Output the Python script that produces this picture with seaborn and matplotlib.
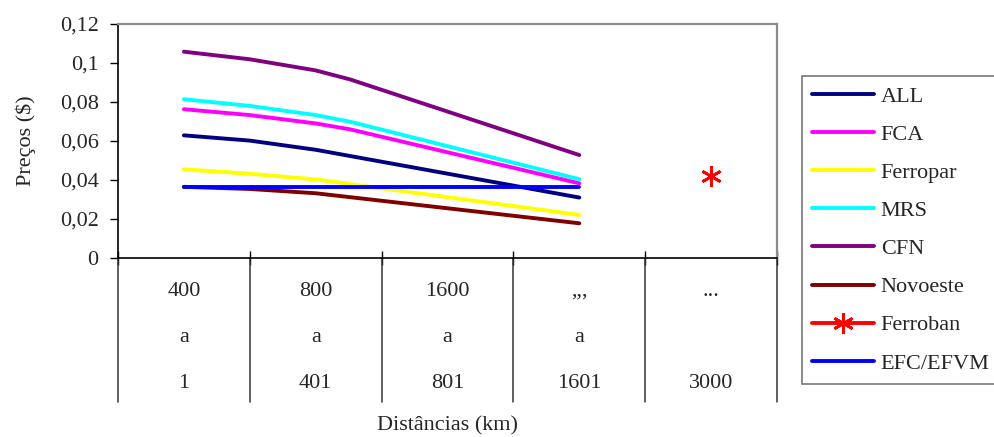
import matplotlib
matplotlib.use("Agg")
import matplotlib.pyplot as plt
import matplotlib.transforms as mtransforms
import seaborn as sns
import pandas as pd

# ---- data ----
categories_top = ["400", "800", "1600", ",,,", "..."]
categories_mid = ["a", "a", "a", "a", ""]
categories_bot = ["1", "401", "801", "1601", "3000"]

all_x = [0, 0.5, 1.0, 3.0]
all_y = [0.0629, 0.0602, 0.0555, 0.0310]

fca_x = [0, 0.5, 1.0, 1.26, 3.0]
fca_y = [0.0763, 0.0733, 0.0690, 0.0660, 0.0383]

ferropar_x = [0, 0.5, 1.0, 3.0]
ferropar_y = [0.0455, 0.0432, 0.0403, 0.0221]

mrs_x = [0, 0.5, 1.0, 1.26, 3.0]
mrs_y = [0.0814, 0.0780, 0.0733, 0.0699, 0.0404]

cfn_x = [0, 0.5, 1.0, 1.26, 3.0]
cfn_y = [0.1058, 0.1019, 0.0962, 0.0916, 0.0528]

novoeste_x = [0, 0.5, 1.0, 3.0]
novoeste_y = [0.0365, 0.0354, 0.0332, 0.0178]

ferroban_x = [4.0]
ferroban_y = [0.0420]

efc_x = [0, 3.0]
efc_y = [0.0365, 0.0365]

yticks = [0, 0.02, 0.04, 0.06, 0.08, 0.1, 0.12]
ytick_labels = ["0", "0,02", "0,04", "0,06", "0,08", "0,1", "0,12"]

series = [
    ("ALL", all_x, all_y, "#000080", None),
    ("FCA", fca_x, fca_y, "#FF00FF", None),
    ("Ferropar", ferropar_x, ferropar_y, "#FFFF00", None),
    ("MRS", mrs_x, mrs_y, "#00FFFF", None),
    ("CFN", cfn_x, cfn_y, "#800080", None),
    ("Novoeste", novoeste_x, novoeste_y, "#800000", None),
    ("Ferroban", ferroban_x, ferroban_y, "#FF0000", (6, 2, 0)),
    ("EFC/EFVM", efc_x, efc_y, "#0000FF", None),
]

# ---- style ----
sns.set_theme(style="white")
plt.rcParams["font.family"] = ["Liberation Serif", "DejaVu Serif"]
FS = 16

fig = plt.figure(figsize=(9.94, 4.37), dpi=100)
W, H = 994, 437
left, right, top, bottom = 118, 777, 24, 258
ax = fig.add_axes([left / W, 1 - bottom / H, (right - left) / W, (bottom - top) / H])

for name, xs, ys, col, mk in series:
    df = pd.DataFrame({"x": xs, "y": ys})
    kw = {}
    if mk is not None:
        kw = dict(marker=mk, markersize=15, markeredgewidth=2, markeredgecolor=col)
    sns.lineplot(data=df, x="x", y="y", color=col, linewidth=2.8, label=name,
                 sort=False, estimator=None, ax=ax, solid_capstyle="round", **kw)

ax.set_xlim(-0.5, 4.5)
ax.set_ylim(0, 0.12)
ax.set_yticks(yticks)
ax.set_yticklabels(ytick_labels, fontsize=FS)
ax.set_xticks([-0.5, 0.5, 1.5, 2.5, 3.5, 4.5])
ax.set_xticklabels([])
ax.set_xlabel("")
ax.set_ylabel("Preços ($)", fontsize=FS, labelpad=17)
ax.tick_params(axis="y", direction="out", length=6, width=1, color="black", pad=8, left=True)
ax.tick_params(axis="x", direction="inout", length=10, width=1, color="black", bottom=True)

for s in ["top", "right"]:
    ax.spines[s].set_color("#8c8c8c")
    ax.spines[s].set_linewidth(1.6)
for s in ["left", "bottom"]:
    ax.spines[s].set_color("black")
    ax.spines[s].set_linewidth(1.2)

# table-like category area below the axis
trans = mtransforms.blended_transform_factory(ax.transData, ax.transAxes)
ah = bottom - top
def yf(py):
    return -(py - bottom) / ah
for b in [-0.5, 0.5, 1.5, 2.5, 3.5, 4.5]:
    ax.plot([b, b], [0, yf(402)], transform=trans, color="#333333", lw=1.1, clip_on=False)
for i in range(len(categories_top)):
    ax.text(i, yf(291), categories_top[i], transform=trans, ha="center", va="center", fontsize=FS)
    ax.text(i, yf(338), categories_mid[i], transform=trans, ha="center", va="center", fontsize=FS)
    ax.text(i, yf(384), categories_bot[i], transform=trans, ha="center", va="center", fontsize=FS)
ax.text(2.0, yf(426), "Distâncias (km)", transform=trans, ha="center", va="center", fontsize=FS)

# legend
handles, labels = ax.get_legend_handles_labels()
leg = ax.legend(handles, labels, loc="upper left", bbox_to_anchor=(802 / W, 1 - 76 / H),
                bbox_transform=fig.transFigure, fontsize=FS, frameon=True, fancybox=False,
                handlelength=2.8, handletextpad=0.28, labelspacing=0.79, borderpad=0.46,
                borderaxespad=0)
leg.get_frame().set_edgecolor("#555555")
leg.get_frame().set_linewidth(1.2)

fig.savefig("out.png", dpi=100)
